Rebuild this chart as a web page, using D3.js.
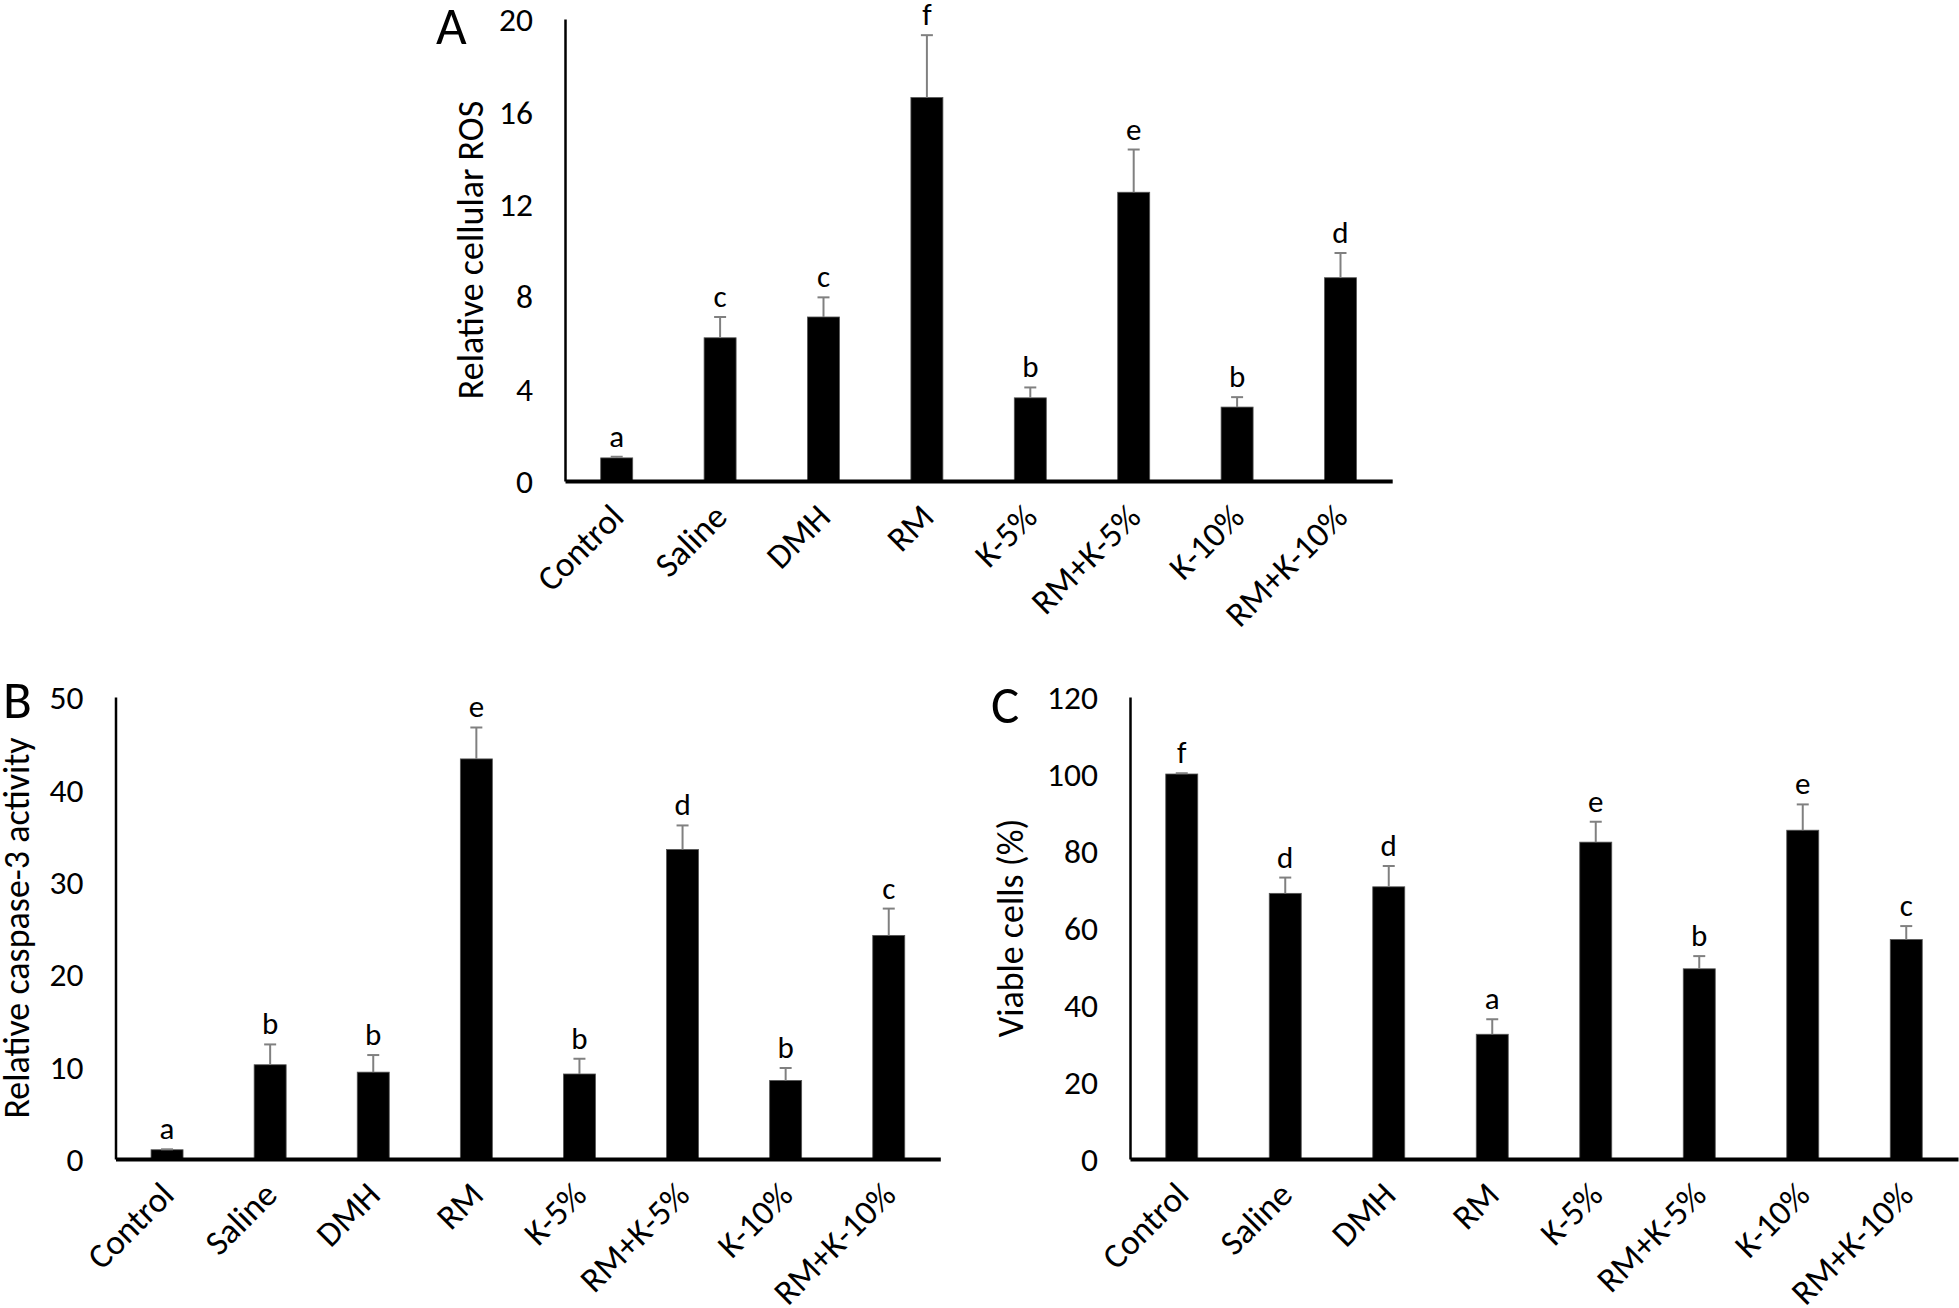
<!DOCTYPE html>
<html>
<head>
<meta charset="utf-8">
<script src="https://cdn.jsdelivr.net/npm/d3@7"></script>
<style>
  html, body { margin: 0; padding: 0; background: #fff; }
  svg { display: block; }
  text { font-family: Carlito, "Open Sans", sans-serif; fill: #000; }
</style>
</head>
<body>
<svg id="chart" width="1959" height="1308"></svg>
<script>
// ---------- data ----------
const categories = ["Control", "Saline", "DMH", "RM", "K-5%", "RM+K-5%", "K-10%", "RM+K-10%"];

const rosValues  = [1.0, 6.2, 7.1, 16.6, 3.6, 12.5, 3.2, 8.8];
const rosErrors  = [0.05, 0.9, 0.85, 2.7, 0.45, 1.85, 0.43, 1.07];
const rosLetters = ["a", "c", "c", "f", "b", "e", "b", "d"];
const rosTicks   = [0, 4, 8, 12, 16, 20];

const caspaseValues  = [1.0, 10.2, 9.4, 43.3, 9.2, 33.5, 8.5, 24.2];
const caspaseErrors  = [0.05, 2.2, 1.85, 3.4, 1.65, 2.6, 1.35, 2.9];
const caspaseLetters = ["a", "b", "b", "e", "b", "d", "b", "c"];
const caspaseTicks   = [0, 10, 20, 30, 40, 50];

const viableValues  = [100, 69.0, 70.7, 32.4, 82.3, 49.4, 85.4, 57.0];
const viableErrors  = [0.2, 4.1, 5.4, 3.9, 5.3, 3.3, 6.7, 3.5];
const viableLetters = ["f", "d", "d", "a", "e", "b", "e", "c"];
const viableTicks   = [0, 20, 40, 60, 80, 100, 120];

// ---------- layout ----------
const svg = d3.select("#chart");

const panels = [
  { tag: "A", title: "Relative cellular ROS", values: rosValues, errors: rosErrors, letters: rosLetters, ticks: rosTicks,
    x0: 565, step: 103.4, yTop: 19, yZero: 481, tagX: 436, tagY: 44, titleX: 471 },
  { tag: "B", title: "Relative caspase-3 activity", values: caspaseValues, errors: caspaseErrors, letters: caspaseLetters, ticks: caspaseTicks,
    x0: 115.5, step: 103.1, yTop: 697, yZero: 1159, tagX: 3, tagY: 718, titleX: 17 },
  { tag: "C", title: "Viable cells (%)", values: viableValues, errors: viableErrors, letters: viableLetters, ticks: viableTicks,
    x0: 1130, step: 103.5, yTop: 697, yZero: 1159, tagX: 991, tagY: 723, titleX: 1011 }
];

const barW = 32, capW = 12;

panels.forEach(p => {
  const g = svg.append("g");
  const x = d3.scaleBand().domain(categories).range([p.x0, p.x0 + p.step * categories.length]).padding(0);
  const y = d3.scaleLinear().domain([0, d3.max(p.ticks)]).range([p.yZero, p.yTop]);
  const rows = categories.map((c, i) => ({ c, v: p.values[i], e: p.errors[i], l: p.letters[i] }));

  // bars
  g.selectAll("rect.bar").data(rows).join("rect")
    .attr("class", "bar")
    .attr("x", d => x(d.c) + x.bandwidth() / 2 - barW / 2)
    .attr("width", barW)
    .attr("y", d => y(d.v))
    .attr("height", d => y(0) - y(d.v))
    .attr("fill", "#000")
    .attr("stroke", "#555")
    .attr("stroke-width", 0.8);

  // error bars
  const eb = g.selectAll("g.err").data(rows).join("g").attr("class", "err")
    .attr("stroke", "#808080").attr("stroke-width", 2);
  eb.append("line")
    .attr("x1", d => x(d.c) + x.bandwidth() / 2).attr("x2", d => x(d.c) + x.bandwidth() / 2)
    .attr("y1", d => y(d.v)).attr("y2", d => y(d.v + d.e));
  eb.append("line")
    .attr("x1", d => x(d.c) + x.bandwidth() / 2 - capW / 2).attr("x2", d => x(d.c) + x.bandwidth() / 2 + capW / 2)
    .attr("y1", d => y(d.v + d.e)).attr("y2", d => y(d.v + d.e));

  // significance letters
  g.selectAll("text.sig").data(rows).join("text")
    .attr("class", "sig")
    .attr("x", d => x(d.c) + x.bandwidth() / 2)
    .attr("y", d => y(d.v + d.e) - 10)
    .attr("text-anchor", "middle")
    .style("font-size", "31px")
    .text(d => d.l);

  // y axis (line + labels, no tick marks)
  const yAxis = d3.axisLeft(y).tickValues(p.ticks).tickSize(0).tickPadding(32).tickFormat(d3.format("d"));
  const ya = g.append("g").attr("transform", `translate(${p.x0},0)`).call(yAxis);
  ya.select(".domain").attr("stroke", "#000").attr("stroke-width", 2.5);
  ya.selectAll("text").style("font-size", "33.5px").attr("font-family", null).attr("dy", "0.35em");

  // x axis
  const xAxis = d3.axisBottom(x).tickSize(0).tickPadding(0);
  const xa = g.append("g").attr("transform", `translate(0,${p.yZero})`).call(xAxis);
  xa.select(".domain").attr("stroke", "#000").attr("stroke-width", 4);
  xa.selectAll(".tick text")
    .style("font-size", "35px")
    .attr("font-family", null)
    .attr("text-anchor", "end")
    .attr("y", 0).attr("dy", 0)
    .attr("transform", "translate(9,38) rotate(-45)");

  // y title
  g.append("text")
    .attr("transform", `translate(${p.titleX},${(p.yTop + p.yZero) / 2}) rotate(-90)`)
    .attr("text-anchor", "middle")
    .attr("dominant-baseline", "central")
    .style("font-size", "36px")
    .text(p.title);

  // panel tag
  g.append("text")
    .attr("x", p.tagX).attr("y", p.tagY)
    .style("font-size", "53px")
    .text(p.tag);
});
</script>
</body>
</html>
